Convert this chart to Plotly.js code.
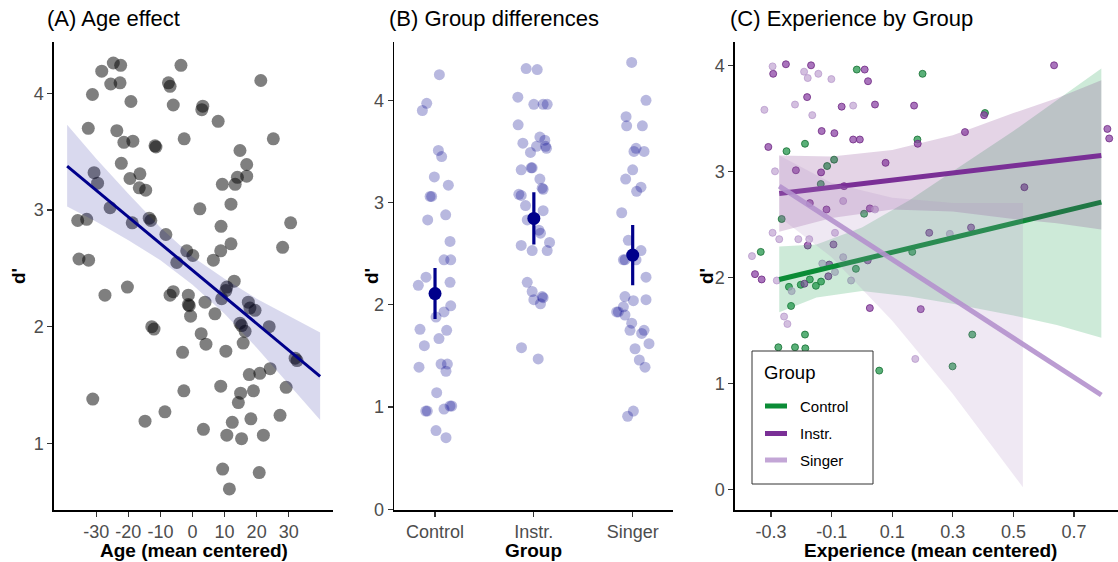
<!DOCTYPE html>
<html>
<head>
<meta charset="utf-8">
<script src="https://cdn.plot.ly/plotly-3.0.1.min.js"></script>
<style>html,body{margin:0;padding:0;background:#fff;}#chart{width:1118px;height:562px;}</style>
</head>
<body>
<div id="chart"></div>
<script>
// ---------- Panel A: Age effect ----------
const ageX = [-24.7,-22.4,-28.3,-25.5,-22.6,-31.2,-19.2,-3.6,-7.5,-7.0,
  -6.0,3.2,2.9,8.0,21.3,-32.5,-23.6,-21.4,-18.6,-11.7,
  -11.4,-2.6,25.2,14.8,16.9,16.9,14.0,13.3,9.3,-22.2,
  -30.7,-29.6,-19.5,-16.4,-16.6,-14.6,-25.7,2.3,12.0,-35.8,
  -33.0,-18.8,-13.5,-13.0,-8.3,8.9,30.6,-35.4,-32.4,-1.8,
  0.1,-4.9,6.5,8.8,12.0,28.1,-20.3,-27.3,-6.0,-7.0,
  -1.3,13.0,10.7,10.4,9.1,-1.3,-1.0,3.9,-0.6,7.0,
  17.4,17.9,19.5,23.9,14.8,15.3,16.4,15.8,32.0,32.6,
  -12.7,-12.0,2.7,4.2,-3.1,10.4,17.7,21.0,24.2,8.8,
  -2.7,15.0,19.0,14.3,29.2,-31.1,-8.6,-14.8,12.4,18.2,
  27.3,3.4,10.7,15.3,22.1,9.4,20.8,11.5];
const ageD = [4.26,4.24,4.19,4.08,4.09,3.99,3.93,4.24,4.09,4.06,
  3.90,3.89,3.86,3.76,4.11,3.70,3.68,3.58,3.59,3.55,
  3.54,3.61,3.61,3.51,3.39,3.29,3.28,3.22,3.22,3.40,
  3.32,3.23,3.27,3.31,3.19,3.17,3.02,3.01,3.05,2.91,
  2.92,2.89,2.93,2.91,2.79,2.86,2.89,2.58,2.57,2.65,
  2.61,2.55,2.57,2.65,2.71,2.68,2.34,2.27,2.30,2.27,
  2.27,2.39,2.34,2.31,2.24,2.19,2.18,2.21,2.09,2.11,
  2.21,2.16,2.14,2.00,2.03,2.01,1.96,1.86,1.73,1.71,
  2.00,1.98,1.94,1.85,1.78,1.79,1.59,1.60,1.64,1.49,
  1.45,1.43,1.45,1.35,1.48,1.38,1.27,1.19,1.18,1.21,
  1.24,1.12,1.07,1.04,1.07,0.78,0.75,0.61];
const ageFitX = [-39.1, 39.8];
const ageFitY = [3.377, 1.574];
const ageBandX = [-39.1,-30,-20,-10,0,10,20,30,39.8];
const ageBandUp = [3.73,3.44,3.14,2.85,2.60,2.41,2.24,2.09,1.95];
const ageBandLo = [3.03,2.90,2.74,2.57,2.36,2.11,1.82,1.51,1.20];
const ageTicks = [-30,-20,-10,0,10,20,30];
const ageTickText = ['-30','-20','-10','0','10','20','30'];

// ---------- Panel B: Group differences ----------
const groups = ['Control','Instr.','Singer'];
const ctrlJit = [0.044,-0.084,-0.128,0.034,0.067,-0.007,0.135,-0.05,-0.034,0.108,
  -0.074,0.152,0.091,0.159,-0.091,0.152,-0.169,0.159,0.091,0.01,
  -0.152,0.118,-0.108,0.04,-0.162,0.061,0.125,0.111,0.017,-0.094,
  -0.078,0.091,0.152,0.169,0.01,0.111];
const ctrlVal = [4.25,3.97,3.90,3.51,3.45,3.25,3.17,3.06,3.06,2.88,
  2.83,2.62,2.44,2.44,2.27,2.22,2.19,1.99,1.93,1.88,
  1.76,1.75,1.60,1.67,1.39,1.42,1.42,1.35,1.14,0.96,
  0.96,0.98,1.01,1.01,0.77,0.70];
const instrJit = [-0.078,0.034,-0.162,0,0.094,0.135,-0.159,-0.111,0.061,0.027,
  0.111,0.118,0.128,-0.034,-0.128,-0.027,-0.017,0.061,0.084,0.094,
  -0.152,-0.128,-0.084,0.094,-0.067,0.051,0.067,-0.128,-0.017,0.159,
  0.135,-0.067,-0.017,0,0.084,0.094,0.067,-0.125,0.044];
const instrVal = [4.31,4.30,4.03,3.96,3.96,3.96,3.76,3.58,3.64,3.55,
  3.61,3.55,3.53,3.49,3.32,3.34,3.34,3.23,3.14,3.13,
  3.08,3.07,2.97,2.92,2.83,2.73,2.70,2.58,2.53,2.61,
  2.53,2.22,2.13,2.05,2.08,2.07,2.01,1.58,1.47];
const singJit = [-0.01,0.135,-0.067,-0.061,0.098,0.034,0.013,0.115,0,-0.071,
  0.084,0.04,-0.111,-0.044,0.084,-0.094,-0.078,0.034,0.135,-0.078,
  0.007,0.135,-0.094,-0.162,-0.145,-0.078,-0.01,-0.027,0.115,0.091,
  0.165,0.024,0.067,0.125,0.007,-0.051];
const singVal = [4.37,4.00,3.84,3.75,3.75,3.53,3.50,3.50,3.32,3.23,
  3.15,3.11,2.90,2.63,2.53,2.44,2.44,2.44,2.27,2.08,
  2.04,2.05,1.98,1.93,1.93,1.90,1.82,1.75,1.75,1.72,
  1.62,1.57,1.46,1.39,0.96,0.91];
const grpMean = [2.11, 2.845, 2.486];
const grpHi = [2.36, 3.10, 2.78];
const grpLo = [1.86, 2.59, 2.19];

// ---------- Panel C: Experience by Group ----------
const ctrlExp = [-0.017,0.200,-0.249,-0.188,0.183,-0.115,-0.092,-0.136,0.007,-0.265,
  0.406,-0.334,-0.020,0.166,-0.241,-0.202,-0.172,-0.152,-0.135,-0.234,
  -0.188,-0.276,-0.221,-0.187,0.057,0.299,0.364];
const ctrlD = [3.96,3.92,3.19,3.26,3.30,3.05,3.11,2.88,2.60,2.55,
  3.55,2.24,2.08,2.24,1.91,1.93,1.98,1.92,1.96,1.73,
  1.46,1.34,1.34,1.33,1.12,1.16,1.46];
const instrExp = [-0.251,-0.293,-0.168,0.009,0.020,-0.181,-0.067,0.043,0.172,-0.309,
  -0.133,-0.091,-0.029,-0.007,0.184,-0.218,-0.135,0.078,-0.059,-0.172,
  -0.117,0.026,0.222,0.634,0.403,0.340,0.810,0.816,0.536,0.360,
  -0.179,-0.094,-0.108,-0.111,0.019,-0.353,-0.331,-0.190,0.026,0.194];
const instrD = [4.01,3.92,4.00,3.96,3.85,3.70,3.61,3.63,3.62,3.23,
  3.38,3.36,3.30,3.30,3.26,3.01,2.99,3.08,2.86,2.70,
  2.64,2.65,2.42,4.00,3.53,3.37,3.40,3.31,2.85,2.47,
  2.30,2.31,2.12,2.01,2.16,2.03,1.98,1.94,1.71,1.70];
const singExp = [-0.295,-0.191,-0.179,-0.144,-0.101,-0.322,-0.221,-0.164,-0.029,-0.287,
  -0.062,0.043,-0.295,-0.273,-0.210,-0.174,-0.089,0.290,-0.363,-0.062,
  -0.131,-0.089,-0.036,-0.281,-0.232,-0.257,-0.246,0.176];
const singD = [3.99,3.94,3.88,3.92,3.87,3.58,3.63,3.53,3.62,3.00,
  2.72,2.64,2.42,2.36,2.36,2.36,2.42,2.41,2.20,2.19,
  2.13,2.05,1.97,1.97,1.87,1.63,1.56,1.23];
const expFitX = [-0.273, 0.79];
const ctrlFitY = [1.98, 2.71];
const instrFitY = [2.79, 3.15];
const singFitY = [2.86, 0.89];
const ctrlBandX = [-0.273,-0.15,0,0.158,0.3,0.5,0.643,0.79];
const ctrlBandUp = [2.29,2.31,2.47,2.73,3.00,3.38,3.67,3.97];
const ctrlBandLo = [1.67,1.81,1.87,1.82,1.75,1.64,1.55,1.43];
const instrBandX = [-0.273,-0.1,0.1,0.3,0.5,0.643,0.79];
const instrBandUp = [3.15,3.14,3.20,3.34,3.55,3.69,3.86];
const instrBandLo = [2.43,2.56,2.64,2.62,2.55,2.51,2.45];
const singBandX = [-0.273,-0.1,0.1,0.3,0.531];
const singBandUp = [3.15,2.89,2.75,2.70,2.70];
const singBandLo = [2.57,2.19,1.59,0.90,0.02];
const expTicks = [-0.3,-0.1,0.1,0.3,0.5,0.7];
const expTickText = ['-0.3','-0.1','0.1','0.3','0.5','0.7'];
const legendTitle = 'Group';
const legendLabels = ['Control', 'Instr.', 'Singer'];
const legendColors = ['#0b8c36', '#7a2f96', '#c3a6d6'];

// ---------- helpers ----------
function band(x, up, lo, xa, ya, color) {
  return {x: x.concat(x.slice().reverse()), y: up.concat(lo.slice().reverse()),
    xaxis: xa, yaxis: ya, type: 'scatter', mode: 'lines', fill: 'toself',
    fillcolor: color, line: {width: 0, color: 'rgba(0,0,0,0)'}, hoverinfo: 'skip', showlegend: false};
}
function shift(jit, k) { return jit.map(j => k + j); }

const traces = [];
// Panel A
traces.push({x: ageX, y: ageD, xaxis: 'x', yaxis: 'y', type: 'scatter', mode: 'markers',
  marker: {size: 13, color: 'rgba(0,0,0,0.5)', line: {width: 0}}, showlegend: false});
traces.push(band(ageBandX, ageBandUp, ageBandLo, 'x', 'y', 'rgba(0,0,139,0.15)'));
traces.push({x: ageFitX, y: ageFitY, xaxis: 'x', yaxis: 'y', type: 'scatter', mode: 'lines',
  line: {color: '#00008b', width: 3}, showlegend: false});

// Panel B
const jitSets = [[ctrlJit, ctrlVal], [instrJit, instrVal], [singJit, singVal]];
jitSets.forEach((s, i) => {
  traces.push({x: shift(s[0], i + 1), y: s[1], xaxis: 'x2', yaxis: 'y2', type: 'scatter', mode: 'markers',
    marker: {size: 11, color: 'rgba(0,0,139,0.28)', line: {width: 0}}, showlegend: false});
});
traces.push({x: [1, 2, 3], y: grpMean, xaxis: 'x2', yaxis: 'y2', type: 'scatter', mode: 'markers',
  marker: {size: 13, color: '#00008b'},
  error_y: {type: 'data', symmetric: false, array: grpHi.map((h, i) => h - grpMean[i]),
    arrayminus: grpLo.map((l, i) => grpMean[i] - l), thickness: 3.2, width: 0, color: '#00008b'},
  showlegend: false});

// Panel C points
traces.push({x: ctrlExp, y: ctrlD, xaxis: 'x3', yaxis: 'y3', type: 'scatter', mode: 'markers',
  marker: {size: 7, color: 'rgba(35,150,75,0.75)', line: {width: 1, color: 'rgba(20,110,50,0.8)'}}, showlegend: false});
traces.push({x: instrExp, y: instrD, xaxis: 'x3', yaxis: 'y3', type: 'scatter', mode: 'markers',
  marker: {size: 7, color: 'rgba(140,70,165,0.75)', line: {width: 1, color: 'rgba(110,40,130,0.8)'}}, showlegend: false});
traces.push({x: singExp, y: singD, xaxis: 'x3', yaxis: 'y3', type: 'scatter', mode: 'markers',
  marker: {size: 7, color: 'rgba(200,175,215,0.8)', line: {width: 1, color: 'rgba(185,155,205,0.8)'}}, showlegend: false});

// Panel C smooths (ribbon then line, per group)
traces.push(band(ctrlBandX, ctrlBandUp, ctrlBandLo, 'x3', 'y3', 'rgba(27,158,77,0.22)'));
traces.push({x: expFitX, y: ctrlFitY, xaxis: 'x3', yaxis: 'y3', type: 'scatter', mode: 'lines', name: 'Control',
  line: {color: legendColors[0], width: 5}, showlegend: false});
traces.push(band(instrBandX, instrBandUp, instrBandLo, 'x3', 'y3', 'rgba(118,42,131,0.2)'));
traces.push({x: expFitX, y: instrFitY, xaxis: 'x3', yaxis: 'y3', type: 'scatter', mode: 'lines', name: 'Instr.',
  line: {color: legendColors[1], width: 5}, showlegend: false});
traces.push(band(singBandX, singBandUp, singBandLo, 'x3', 'y3', 'rgba(175,141,195,0.2)'));
traces.push({x: expFitX, y: singFitY, xaxis: 'x3', yaxis: 'y3', type: 'scatter', mode: 'lines', name: 'Singer',
  line: {color: 'rgba(180,145,205,0.9)', width: 5}, showlegend: false});

const axisCommon = {showline: true, linecolor: '#000', linewidth: 1.6, ticks: 'outside', ticklen: 5,
  tickwidth: 1.2, tickcolor: '#333', tickfont: {size: 18, color: '#4d4d4d'}, showgrid: false,
  zeroline: false, fixedrange: true};
const yd = [52 / 562, 520 / 562];
const W = 1118, H = 562;
const px = v => v / W, py = v => 1 - v / H;

// legend drawn as shapes + text, placed in pixel terms
const shapes = [{type: 'rect', xref: 'paper', yref: 'paper', x0: px(752), x1: px(873), y0: py(484), y1: py(351),
  line: {color: '#333', width: 1}, fillcolor: '#fff', layer: 'above'}];
const legendY = [406, 433.5, 460];
const annotations = [];
legendLabels.forEach((lab, i) => {
  shapes.push({type: 'line', xref: 'paper', yref: 'paper', x0: px(765), x1: px(787), y0: py(legendY[i]), y1: py(legendY[i]),
    line: {color: legendColors[i], width: 5}, layer: 'above'});
  annotations.push({text: lab, x: px(798), y: py(legendY[i]), xref: 'paper', yref: 'paper', xanchor: 'left', yanchor: 'middle',
    showarrow: false, font: {size: 15, color: '#000'}});
});
annotations.push({text: legendTitle, x: px(762), y: py(372), xref: 'paper', yref: 'paper', xanchor: 'left', yanchor: 'middle',
  showarrow: false, font: {size: 18.5, color: '#000'}});

const titles = [['(A) Age effect', 45], ['(B) Group differences', 387], ['(C) Experience by Group', 728]];
titles.forEach(t => annotations.push({text: t[0], x: px(t[1]), y: py(18), xref: 'paper', yref: 'paper',
  xanchor: 'left', yanchor: 'middle', showarrow: false, font: {size: 22, color: '#000'}}));
const xTitles = [['Age (mean centered)', 193.5], ['Group', 533.5], ['Experience (mean centered)', 930]];
xTitles.forEach(t => annotations.push({text: '<b>' + t[0] + '</b>', x: px(t[1]), y: py(550), xref: 'paper', yref: 'paper',
  xanchor: 'center', yanchor: 'middle', showarrow: false, font: {size: 19, color: '#000'}}));
[18, 371, 706].forEach(xp => annotations.push({text: "<b>d'</b>", x: px(xp), y: py(276), xref: 'paper', yref: 'paper',
  xanchor: 'center', yanchor: 'middle', textangle: -90, showarrow: false, font: {size: 19, color: '#000'}}));

const layout = {
  width: W, height: H, margin: {l: 0, r: 0, t: 0, b: 0},
  paper_bgcolor: '#fff', plot_bgcolor: 'rgba(0,0,0,0)',
  font: {family: 'Liberation Sans, Arial, sans-serif', color: '#000'},
  showlegend: false,
  xaxis: Object.assign({}, axisCommon, {domain: [54 / W, 333 / W], range: [-43.19, 43.81],
    tickvals: ageTicks, ticktext: ageTickText, anchor: 'y'}),
  yaxis: Object.assign({}, axisCommon, {domain: yd, range: [0.429, 4.44], tickvals: [1, 2, 3, 4], anchor: 'x'}),
  xaxis2: Object.assign({}, axisCommon, {domain: [394.3 / W, 673.4 / W], range: [0.588, 3.412],
    tickvals: [1, 2, 3], ticktext: groups, anchor: 'y2'}),
  yaxis2: Object.assign({}, axisCommon, {domain: yd, range: [-0.007, 4.57], tickvals: [0, 1, 2, 3, 4], anchor: 'x2'}),
  xaxis3: Object.assign({}, axisCommon, {domain: [735 / W, 1], range: [-0.419, 0.845],
    tickvals: expTicks, ticktext: expTickText, anchor: 'y3'}),
  yaxis3: Object.assign({}, axisCommon, {domain: yd, range: [-0.195, 4.22], tickvals: [0, 1, 2, 3, 4], anchor: 'x3'}),
  shapes: shapes,
  annotations: annotations
};

Plotly.newPlot('chart', traces, layout, {staticPlot: true, displayModeBar: false});
</script>
</body>
</html>
